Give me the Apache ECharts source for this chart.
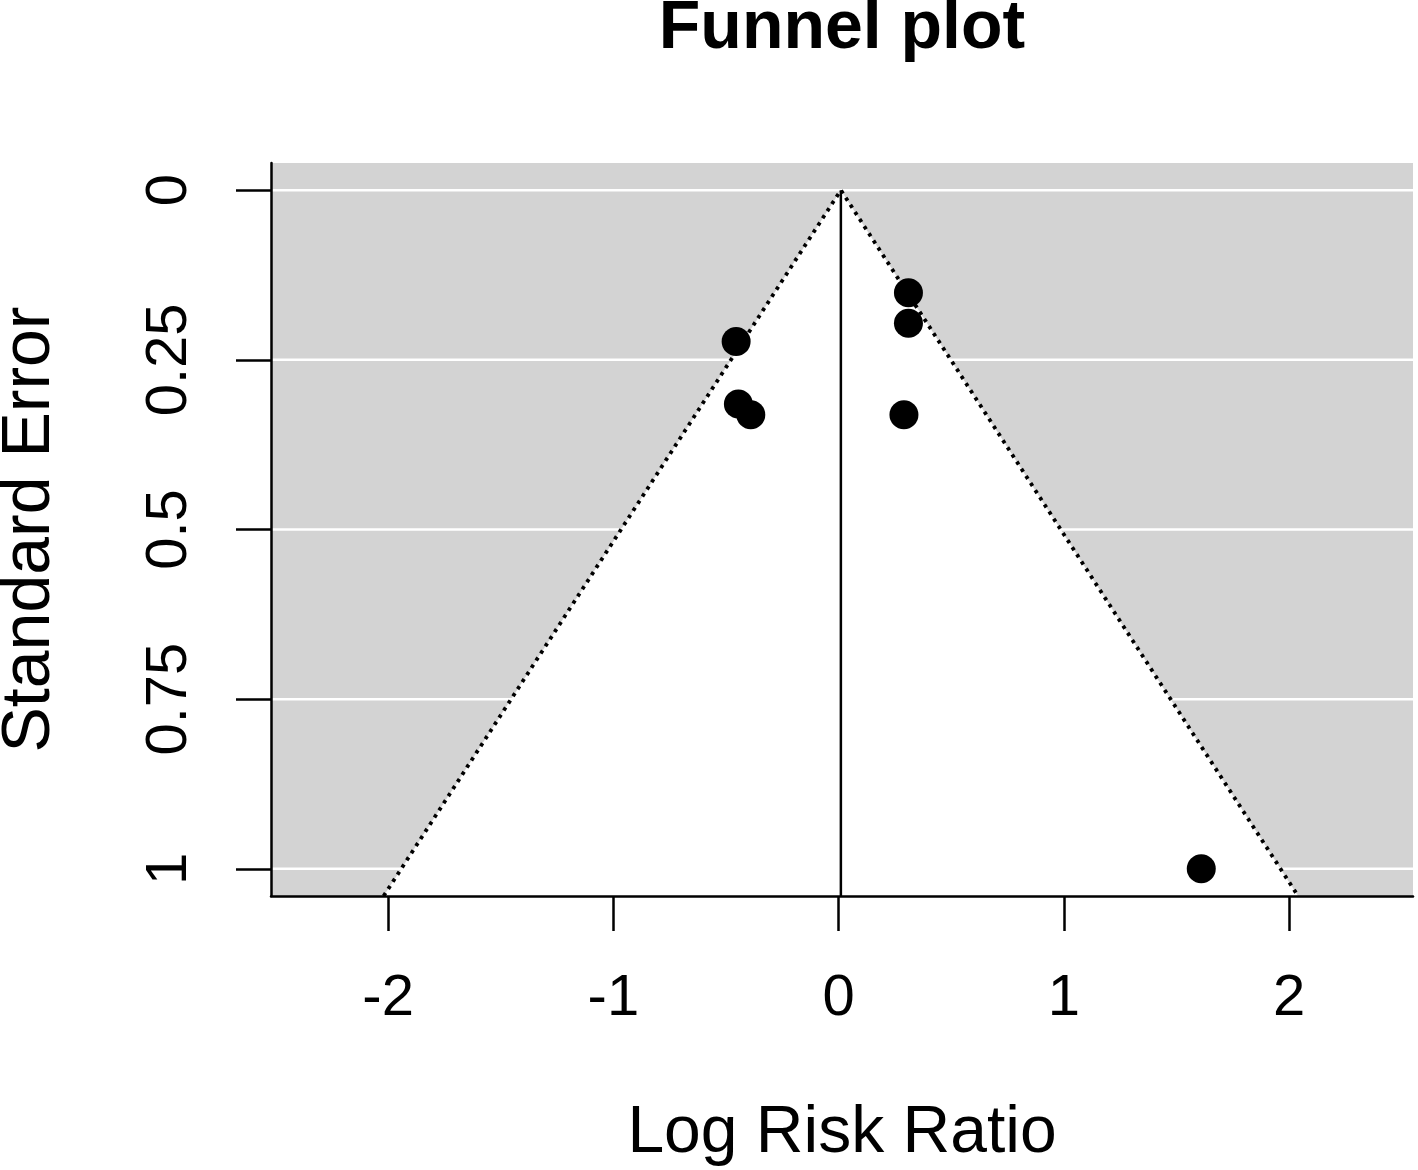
<!DOCTYPE html>
<html><head><meta charset="utf-8">
<script src="https://cdn.jsdelivr.net/npm/echarts@6/dist/echarts.min.js"></script>
<style>html,body{margin:0;padding:0;background:#fff}#c{width:1418px;height:1170px}</style>
</head><body><div id="c"></div>
<script>
// Data
const studyLogRR = [0.31, 0.31, -0.455, -0.445, -0.39, 0.29, 1.61];
const studySE    = [0.151, 0.196, 0.223, 0.315, 0.331, 0.331, 1.0];
const pooledEstimate = 0.01;
const funnelX  = [-2.02, 0.01, 2.04];
const funnelSE = [1.04, 0, 1.04];
const xTicks = [-2, -1, 0, 1, 2];
const yTicks = [0, 0.25, 0.5, 0.75, 1];
const xRange = [-2.52, 2.55];
const yRange = [-0.04, 1.04];

const FONT = 'Liberation Sans, Arial, Helvetica, sans-serif';
const chart = echarts.init(document.getElementById('c'), null, {renderer: 'canvas'});

const points = studyLogRR.map((x, i) => [x, studySE[i]]);
const funnelData = funnelX.map((x, i) => [x, funnelSE[i]]);

chart.setOption({
  animation: false,
  backgroundColor: '#fff',
  graphic: [{
    type: 'text', x: 842, y: -5, silent: true,
    style: {text: 'Funnel plot', textAlign: 'center', textVerticalAlign: 'top',
            font: 'bold 68px ' + FONT, fill: '#000'}
  }],
  grid: {
    left: 271, right: 5, top: 163, bottom: 274,
    containLabel: false, outerBoundsMode: 'none',
    show: true, backgroundColor: '#d3d3d3', borderWidth: 0
  },
  xAxis: {
    type: 'value', min: xRange[0], max: xRange[1], z: 10,
    name: 'Log Risk Ratio', nameLocation: 'middle', nameGap: 205,
    nameTextStyle: {fontFamily: FONT, fontSize: 66, color: '#000'},
    axisLine: {show: true, onZero: false, lineStyle: {color: '#000', width: 2.5}},
    axisTick: {show: true, customValues: xTicks, length: 35, lineStyle: {color: '#000', width: 2.5}},
    axisLabel: {customValues: xTicks, margin: 74, fontFamily: FONT, fontSize: 58, color: '#000'},
    splitLine: {show: false}
  },
  yAxis: {
    type: 'value', inverse: true, min: yRange[0], max: yRange[1], z: 10,
    name: 'Standard Error', nameLocation: 'middle', nameGap: 207, nameRotate: 90,
    nameTextStyle: {fontFamily: FONT, fontSize: 68, color: '#000'},
    axisLine: {show: true, onZero: false, lineStyle: {color: '#000', width: 2.5}},
    axisTick: {show: true, customValues: yTicks, length: 35, lineStyle: {color: '#000', width: 2.5}},
    axisLabel: {customValues: yTicks, rotate: 90, margin: 72, fontFamily: FONT, fontSize: 58, color: '#000'},
    splitLine: {show: false}
  },
  series: [
    {
      type: 'custom', z: 1, silent: true,
      data: yTicks.map(v => [0, v]),
      renderItem: function (params, api) {
        const y = api.value(1);
        const p1 = api.coord([xRange[0], y]);
        const p2 = api.coord([xRange[1], y]);
        return {type: 'line', shape: {x1: p1[0], y1: p1[1], x2: p2[0], y2: p2[1]},
                style: {stroke: '#ffffff', lineWidth: 2.5}};
      }
    },
    {
      type: 'custom', z: 2, silent: true,
      data: funnelData,
      renderItem: function (params, api) {
        if (params.dataIndex !== 0) return null;
        const pts = funnelData.map(d => api.coord(d));
        return {type: 'polygon', shape: {points: pts}, style: {fill: '#ffffff'}};
      }
    },
    {
      type: 'line', z: 3, silent: true, symbol: 'none',
      data: funnelData,
      lineStyle: {color: '#000', width: 3.8, type: [3.5, 5], cap: 'butt'}
    },
    {
      type: 'line', z: 3, silent: true, symbol: 'none',
      data: [[pooledEstimate, yRange[0] + 0.04], [pooledEstimate, yRange[1]]],
      lineStyle: {color: '#000', width: 2.5}
    },
    {
      type: 'scatter', z: 4, symbol: 'circle', symbolSize: 29,
      data: points,
      itemStyle: {color: '#000', opacity: 1}
    }
  ]
});
</script></body></html>
